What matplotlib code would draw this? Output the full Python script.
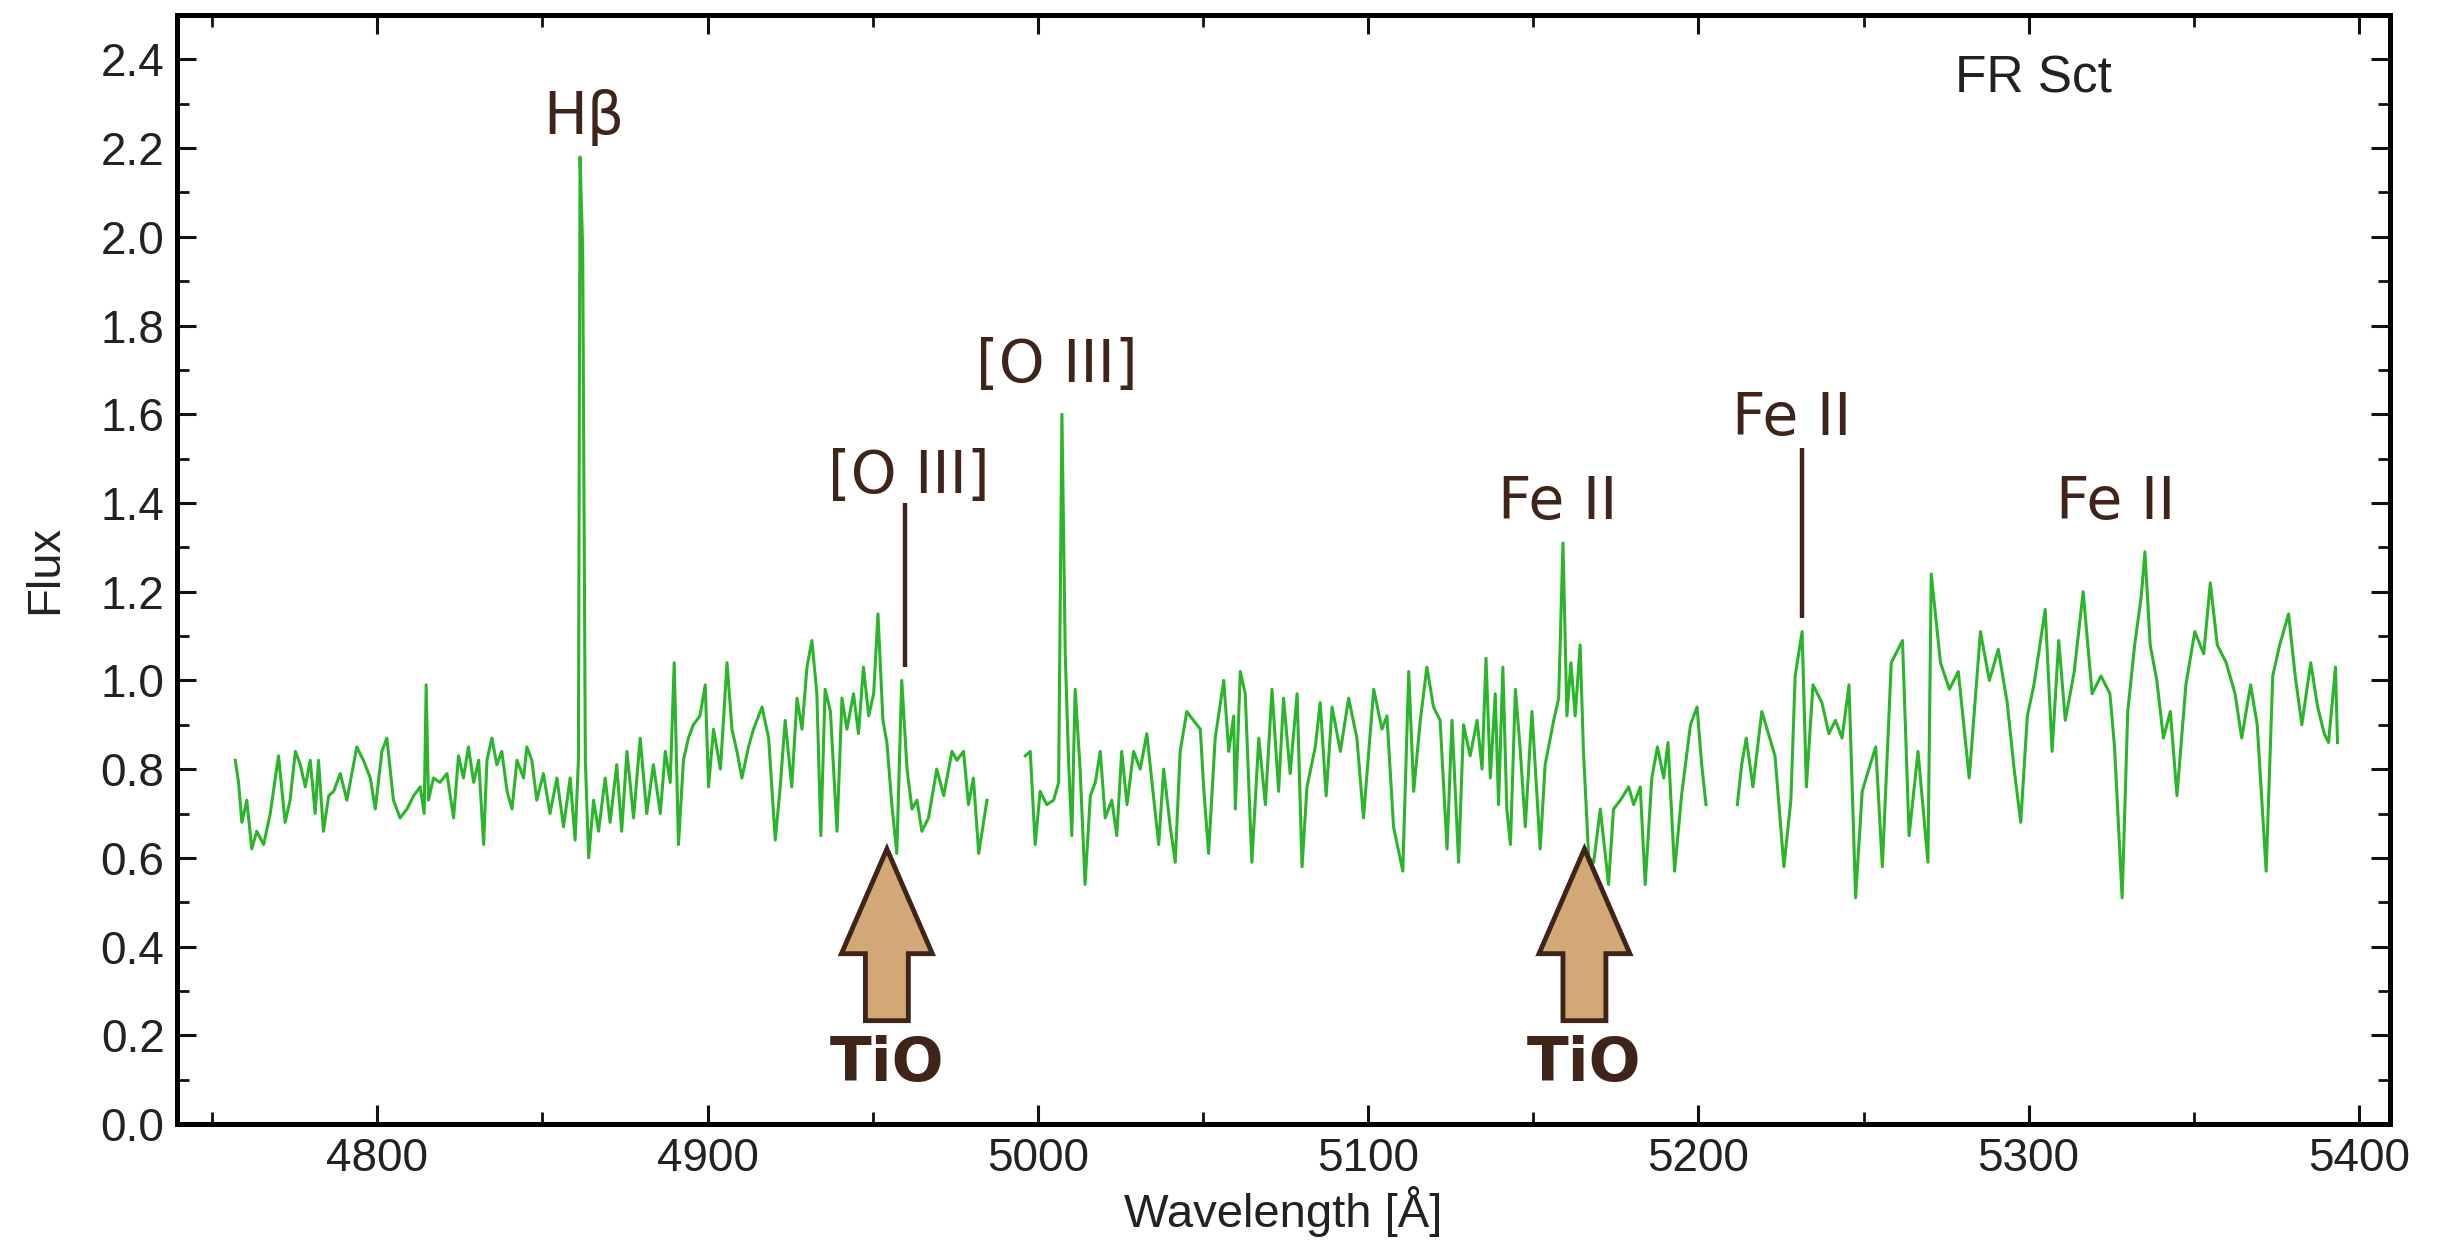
import matplotlib.pyplot as plt
from matplotlib.patches import FancyArrow
from matplotlib.ticker import MultipleLocator

# spectrum, three pieces with gaps between them
wave_a = [4757.0, 4758.0, 4759.0, 4760.5, 4762.0, 4763.5, 4765.6, 4767.6, 4770.1, 4772.1,
          4773.6, 4775.2, 4776.7, 4778.2, 4779.7, 4781.2, 4782.2, 4783.7, 4785.3, 4786.8,
          4788.8, 4790.8, 4793.8, 4795.8, 4797.9, 4799.4, 4801.4, 4802.9, 4804.9, 4806.9,
          4809.0, 4811.0, 4813.0, 4814.2, 4814.8, 4815.5, 4817.0, 4819.0, 4821.1, 4823.1,
          4824.6, 4826.1, 4827.6, 4829.2, 4830.7, 4832.2, 4833.2, 4834.7, 4836.2, 4837.7,
          4839.3, 4840.8, 4842.3, 4844.3, 4845.3, 4846.8, 4848.3, 4850.3, 4852.3, 4854.4,
          4856.4, 4858.4, 4859.9, 4860.9, 4861.4, 4862.2, 4863.0, 4864.0, 4865.5, 4867.0,
          4869.0, 4870.5, 4872.5, 4874.0, 4875.6, 4877.6, 4879.6, 4881.6, 4883.6, 4885.7,
          4887.2, 4888.7, 4889.9, 4891.2, 4892.7, 4894.2, 4895.7, 4897.7, 4899.3, 4900.3,
          4901.8, 4903.9, 4905.9, 4907.4, 4908.9, 4910.4, 4912.4, 4913.9, 4916.5, 4918.5,
          4920.5, 4922.0, 4923.5, 4925.5, 4927.1, 4928.6, 4930.1, 4931.6, 4933.1, 4934.3,
          4935.6, 4937.2, 4939.2, 4940.7, 4942.2, 4944.2, 4945.7, 4947.2, 4948.8, 4950.3,
          4951.6, 4953.1, 4954.3, 4955.8, 4957.3, 4958.8, 4960.4, 4961.9, 4963.4, 4964.9,
          4966.9, 4969.4, 4971.5, 4974.0, 4975.5, 4977.5, 4979.0, 4980.5, 4982.1, 4984.6]
flux_a = [0.82, 0.77, 0.68, 0.73, 0.62, 0.66, 0.63, 0.70, 0.83, 0.68,
          0.73, 0.84, 0.81, 0.76, 0.82, 0.70, 0.82, 0.66, 0.74, 0.75,
          0.79, 0.73, 0.85, 0.82, 0.78, 0.71, 0.84, 0.87, 0.73, 0.69,
          0.71, 0.74, 0.76, 0.70, 0.99, 0.73, 0.78, 0.77, 0.79, 0.69,
          0.83, 0.78, 0.85, 0.77, 0.82, 0.63, 0.82, 0.87, 0.81, 0.84,
          0.75, 0.71, 0.82, 0.78, 0.85, 0.82, 0.73, 0.79, 0.70, 0.78,
          0.67, 0.78, 0.64, 0.82, 2.18, 1.97, 0.82, 0.60, 0.73, 0.66,
          0.78, 0.68, 0.81, 0.66, 0.84, 0.69, 0.87, 0.70, 0.81, 0.70,
          0.84, 0.77, 1.04, 0.63, 0.82, 0.87, 0.90, 0.92, 0.99, 0.76,
          0.89, 0.80, 1.04, 0.89, 0.84, 0.78, 0.85, 0.89, 0.94, 0.87,
          0.64, 0.76, 0.91, 0.76, 0.96, 0.89, 1.03, 1.09, 0.97, 0.65,
          0.98, 0.93, 0.66, 0.96, 0.89, 0.97, 0.88, 1.03, 0.92, 0.97,
          1.15, 0.91, 0.86, 0.72, 0.61, 1.00, 0.80, 0.71, 0.73, 0.66,
          0.69, 0.80, 0.74, 0.84, 0.82, 0.84, 0.72, 0.78, 0.61, 0.73]

wave_b = [4996.2, 4997.7, 4999.2, 5000.7, 5002.7, 5004.8, 5006.3, 5007.3, 5008.3, 5009.3,
          5010.3, 5011.3, 5012.8, 5014.3, 5015.9, 5017.4, 5018.9, 5020.4, 5022.4, 5023.9,
          5025.4, 5027.0, 5029.0, 5031.0, 5033.0, 5035.0, 5036.6, 5038.1, 5040.1, 5041.6,
          5043.1, 5045.1, 5047.1, 5049.2, 5050.2, 5051.7, 5053.7, 5056.3, 5057.8, 5059.3,
          5059.8, 5061.3, 5062.8, 5064.8, 5066.9, 5068.9, 5070.9, 5072.9, 5074.4, 5076.4,
          5078.5, 5080.0, 5081.5, 5084.0, 5085.5, 5087.3, 5089.1, 5091.6, 5094.1, 5096.6,
          5098.6, 5101.7, 5104.2, 5105.7, 5107.7, 5110.5, 5112.3, 5113.8, 5115.8, 5117.8,
          5119.8, 5121.8, 5123.9, 5125.4, 5127.4, 5128.9, 5130.9, 5133.0, 5134.5, 5135.7,
          5137.0, 5138.5, 5139.5, 5140.8, 5142.0, 5143.1, 5144.6, 5146.1, 5147.6, 5149.6,
          5152.1, 5153.6, 5156.2, 5157.7, 5159.0, 5160.2, 5161.4, 5162.7, 5164.2, 5165.2,
          5166.8, 5168.3, 5170.3, 5172.8, 5174.3, 5176.4, 5178.9, 5180.4, 5182.4, 5183.9,
          5185.9, 5187.6, 5189.5, 5190.8, 5192.8, 5194.9, 5197.6, 5199.6, 5201.0, 5202.3]
flux_b = [0.83, 0.84, 0.63, 0.75, 0.72, 0.73, 0.77, 1.60, 1.06, 0.82,
          0.65, 0.98, 0.80, 0.54, 0.74, 0.77, 0.84, 0.69, 0.73, 0.65,
          0.84, 0.72, 0.84, 0.80, 0.88, 0.74, 0.63, 0.80, 0.67, 0.59,
          0.84, 0.93, 0.91, 0.89, 0.76, 0.61, 0.87, 1.00, 0.84, 0.92,
          0.71, 1.02, 0.97, 0.59, 0.87, 0.72, 0.98, 0.75, 0.96, 0.79,
          0.97, 0.58, 0.76, 0.85, 0.95, 0.74, 0.94, 0.84, 0.96, 0.87,
          0.69, 0.98, 0.89, 0.92, 0.67, 0.57, 1.02, 0.75, 0.91, 1.03,
          0.94, 0.91, 0.62, 0.91, 0.59, 0.90, 0.83, 0.91, 0.80, 1.05,
          0.78, 0.97, 0.72, 1.03, 0.71, 0.63, 0.98, 0.84, 0.67, 0.93,
          0.62, 0.81, 0.91, 0.96, 1.31, 0.92, 1.04, 0.92, 1.08, 0.84,
          0.60, 0.59, 0.71, 0.54, 0.71, 0.73, 0.76, 0.72, 0.76, 0.54,
          0.78, 0.85, 0.78, 0.86, 0.57, 0.74, 0.90, 0.94, 0.81, 0.72]

wave_c = [5211.8, 5213.1, 5214.5, 5216.5, 5219.2, 5221.2, 5223.2, 5225.9, 5228.0, 5229.3,
          5231.4, 5232.7, 5234.7, 5237.4, 5239.5, 5241.5, 5243.5, 5245.6, 5247.6, 5249.6,
          5251.6, 5253.7, 5255.7, 5258.4, 5261.8, 5263.8, 5266.5, 5269.5, 5270.5, 5273.3,
          5276.0, 5278.7, 5282.0, 5285.4, 5288.1, 5290.8, 5293.5, 5295.6, 5297.6, 5299.6,
          5301.6, 5305.0, 5307.1, 5309.1, 5311.1, 5313.8, 5316.5, 5319.2, 5321.9, 5324.6,
          5326.0, 5328.3, 5330.0, 5332.1, 5334.1, 5335.2, 5336.8, 5338.8, 5340.8, 5342.9,
          5344.9, 5347.6, 5350.3, 5353.0, 5355.0, 5357.1, 5359.8, 5362.5, 5364.5, 5367.2,
          5369.2, 5371.9, 5373.9, 5376.0, 5378.7, 5380.7, 5382.7, 5385.4, 5387.5, 5389.5,
          5390.8, 5392.9, 5393.5]
flux_c = [0.72, 0.81, 0.87, 0.76, 0.93, 0.88, 0.83, 0.58, 0.73, 1.01,
          1.11, 0.76, 0.99, 0.95, 0.88, 0.91, 0.87, 0.99, 0.51, 0.75,
          0.80, 0.85, 0.58, 1.04, 1.09, 0.65, 0.84, 0.59, 1.24, 1.04,
          0.98, 1.02, 0.78, 1.11, 1.00, 1.07, 0.95, 0.80, 0.68, 0.92,
          0.99, 1.16, 0.84, 1.09, 0.91, 1.02, 1.20, 0.97, 1.01, 0.97,
          0.85, 0.51, 0.93, 1.08, 1.19, 1.29, 1.08, 1.00, 0.87, 0.93,
          0.74, 0.99, 1.11, 1.06, 1.22, 1.08, 1.04, 0.97, 0.87, 0.99,
          0.90, 0.57, 1.01, 1.08, 1.15, 1.01, 0.90, 1.04, 0.94, 0.88,
          0.86, 1.03, 0.86]

# line identifications: text, x, y
line_labels = ["H\u03b2", "[O III]", "[O III]", "Fe II", "Fe II", "Fe II"]
label_x = [4862.7, 4961.0, 5005.7, 5157.5, 5228.3, 5326.4]
label_y = [2.27, 1.46, 1.71, 1.40, 1.59, 1.40]

# short marker lines: x, y bottom, y top
marker_x = [4959.9, 5231.3]
marker_lo = [1.03, 1.14]
marker_hi = [1.40, 1.525]

# TiO band heads
tio_x = [4954.3, 5165.5]
tio_tip = 0.62

BROWN = "#3f2419"

fig = plt.figure(figsize=(24.43, 12.51), dpi=100)
ax = fig.add_axes([0.0725, 0.1015, 0.9058, 0.8865])

for w, f in [(wave_a, flux_a), (wave_b, flux_b), (wave_c, flux_c)]:
    ax.plot(w, f, color="#2bb52b", lw=2.2)

for txt, x, y in zip(line_labels, label_x, label_y):
    ax.text(x, y, txt, fontsize=42, color=BROWN, ha="center", va="center",
            family="DejaVu Sans")

for x, lo, hi in zip(marker_x, marker_lo, marker_hi):
    ax.plot([x, x], [lo, hi], color=BROWN, lw=3.2, solid_capstyle="butt")

for x in tio_x:
    ax.add_patch(FancyArrow(x, 0.233, 0, tio_tip - 0.233, width=13, head_width=27.5,
                            head_length=0.236, length_includes_head=True,
                            facecolor="#d3a877", edgecolor=BROWN, lw=3.5, zorder=4))
    ax.text(x, 0.135, "TiO", fontsize=44, fontweight="bold", color=BROWN,
            ha="center", va="center", family="DejaVu Sans")

ax.text(5301.4, 2.355, "FR Sct", fontsize=37, color="#222222", ha="center",
        va="center", family="Liberation Sans")

ax.set_xlim(4739.4, 5409.4)
ax.set_ylim(0, 2.5)
ax.xaxis.set_major_locator(MultipleLocator(100))
ax.xaxis.set_minor_locator(MultipleLocator(50))
ax.yaxis.set_major_locator(MultipleLocator(0.2))
ax.yaxis.set_minor_locator(MultipleLocator(0.1))
ax.yaxis.set_major_formatter(plt.FormatStrFormatter("%.1f"))

ax.tick_params(which="both", direction="in", top=True, right=True, colors="#111111",
               labelsize=33, pad=9)
ax.tick_params(which="major", length=14, width=2.2)
ax.tick_params(which="minor", length=8.5, width=2.0)
for lab in ax.get_xticklabels() + ax.get_yticklabels():
    lab.set_family("Liberation Sans")
    lab.set_color("#222222")
for sp in ax.spines.values():
    sp.set_linewidth(3.6)

ax.set_xlabel("Wavelength [\u00c5]", fontsize=34, family="Liberation Sans",
              color="#222222", labelpad=4)
ax.set_ylabel("Flux", fontsize=34, family="Liberation Sans", color="#222222",
              labelpad=24)

fig.savefig("out.png", dpi=100)
